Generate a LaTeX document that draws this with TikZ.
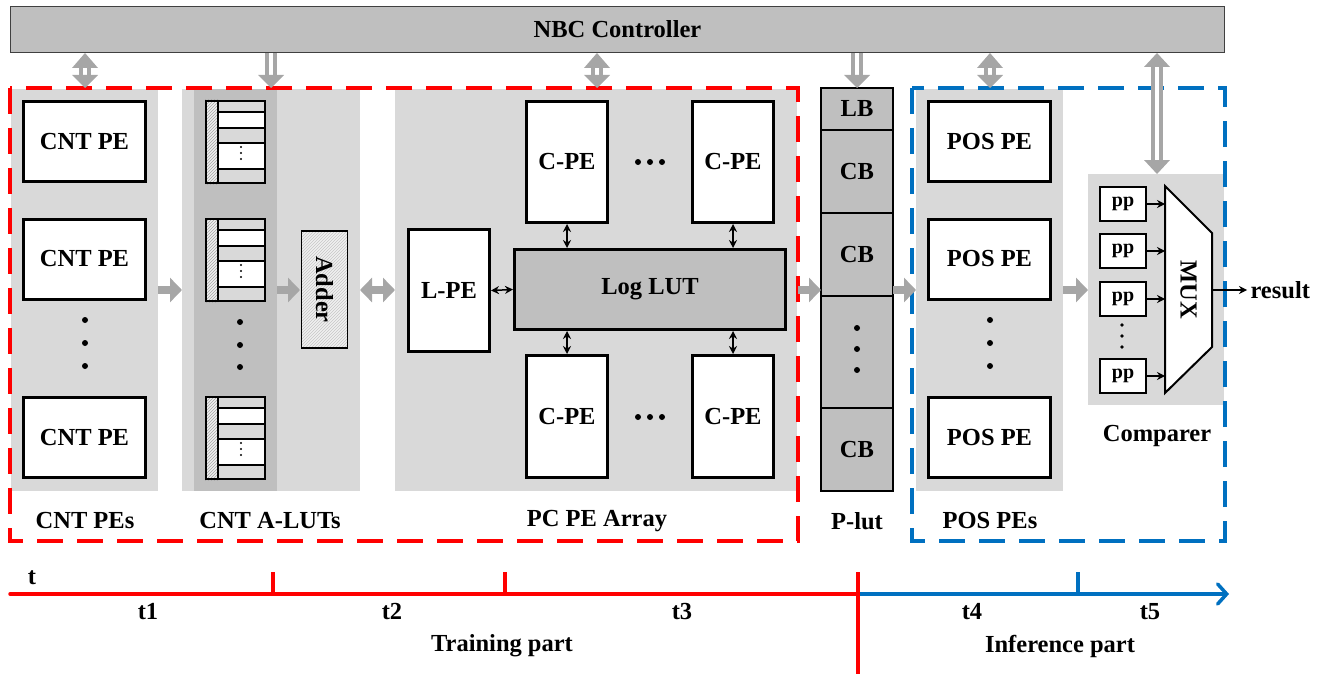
\documentclass[tikz,border=0pt]{standalone}
\usepackage{fontspec}
\setmainfont{Liberation Serif}
\usetikzlibrary{arrows.meta,patterns,calc}
\definecolor{panel}{HTML}{D9D9D9}
\definecolor{dpanel}{HTML}{BFBFBF}
\definecolor{arrgray}{HTML}{A6A6A6}
\definecolor{myred}{HTML}{FF0000}
\definecolor{myblue}{HTML}{0070C0}
\tikzset{
  pebox/.style={draw, line width=3pt, fill=white, inner sep=0pt},
  plbox/.style={draw, line width=1.2pt, fill=dpanel, inner sep=0pt, minimum width=72pt},
  ppbox/.style={draw, line width=2pt, fill=white, inner sep=0pt, minimum width=46pt, minimum height=34pt, font=\bfseries\fontsize{20}{21}\selectfont},
  bigarr/.style={draw=arrgray, line width=8pt, -{Triangle[length=12pt,width=24pt]}},
  bigdarr/.style={draw=arrgray, line width=8pt, {Triangle[length=12pt,width=24pt]}-{Triangle[length=12pt,width=24pt]}},
  smarr/.style={line width=1.5pt, {Stealth[length=8pt,width=8pt]}-{Stealth[length=8pt,width=8pt]}},
  sarr/.style={line width=1.5pt, -{Stealth[length=8pt,width=8pt]}},
  ctrlshaft/.style={draw=arrgray, line width=4pt, double=white, double distance=3.5pt},
  reddash/.style={draw=myred, line width=3.5pt, dash pattern=on 26pt off 14pt},
  bluedash/.style={draw=myblue, line width=3.5pt, dash pattern=on 26pt off 14pt},
  lbl/.style={inner sep=0pt},
  dot/.style={fill=black}
}
\newcommand\lutblk[2]{%
\begin{scope}[shift={(0,#2)}]
 \fill[panel] (218,0) rectangle (266,84);
 \fill[white] (218,12) rectangle (266,28);
 \fill[white] (218,43) rectangle (266,69);
 \fill[gray!12] (205,0) rectangle (218,84);
 \fill[pattern=north east lines, pattern color=gray!70] (205,0) rectangle (218,84);
 \draw[line width=2pt] (218,12) -- (266,12) (218,28) -- (266,28) (218,43) -- (266,43) (218,69) -- (266,69) (218,0) -- (218,84);
 \node[draw, line width=2.5pt, minimum width=59pt, minimum height=82pt, inner sep=0pt] (#1) at (235.5,42) {};
 \fill (241,47) circle (1.2pt) (241,53) circle (1.2pt) (241,59) circle (1.2pt);
\end{scope}}
\newcommand\uphead[3]{\fill[arrgray] (#1-13,#3) -- (#1+13,#3) -- (#1,#2) -- cycle;}
\begin{document}
\begin{tikzpicture}[x=1pt,y=-1pt, font=\bfseries\fontsize{24.5}{26}\selectfont]
\useasboundingbox (0,0) rectangle (1324,674);

% controller
\node[draw=black!75, line width=1pt, fill=dpanel, minimum width=1214pt, minimum height=46pt, inner sep=0pt] (nbc) at (617.5,29.5) {NBC Controller};

% panels
\fill[panel] (11,89) rectangle (158,491);
\fill[panel] (182,89) rectangle (360,491);
\fill[dpanel] (194,89) rectangle (277,491);
\fill[panel] (395,89) rectangle (797,491);
\fill[panel] (916,89) rectangle (1063,491);
\fill[panel] (1088,174) rectangle (1224,405);

% dashed regions
\draw[reddash] (10,88) rectangle (798,541);
\draw[bluedash] (912,88) rectangle (1225,541);

% CNT PEs
\node[pebox, minimum width=122pt, minimum height=80pt] (cnt1) at (84.5,141.5) {CNT PE};
\node[pebox, minimum width=122pt, minimum height=80pt] (cnt2) at (84.5,259) {CNT PE};
\node[pebox, minimum width=122pt, minimum height=80pt] (cnt3) at (84.5,437.5) {CNT PE};
\fill (85,320) circle (3pt) (85,343) circle (3pt) (85,366) circle (3pt);

% CNT A-LUTs
\lutblk{lut1}{100}
\lutblk{lut2}{218}
\lutblk{lut3}{396}
\fill (240,322) circle (3pt) (240,345) circle (3pt) (240,367) circle (3pt);
\node[draw, line width=1.2pt, minimum width=117pt, minimum height=46pt, inner sep=0pt, rotate=-90,
      preaction={fill=gray!12}, pattern=north east lines, pattern color=gray!45] (adder) at (324.5,289.5) {};
\node[rotate=-90] (addertxt) at (adder.center) {Adder};

% PC PE Array
\node[pebox, minimum width=81pt, minimum height=122pt] (lpe) at (449,290.5) {L-PE};
\node[pebox, fill=dpanel, minimum width=271pt, minimum height=80pt] (loglut) at (650,289.5) {Log LUT};
\node[pebox, minimum width=81pt, minimum height=121pt] (c1) at (567,162) {C-PE};
\node[pebox, minimum width=81pt, minimum height=121pt] (c2) at (733,162) {C-PE};
\node[pebox, minimum width=81pt, minimum height=122pt] (c3) at (567,416.5) {C-PE};
\node[pebox, minimum width=81pt, minimum height=122pt] (c4) at (733,416.5) {C-PE};
\fill (638,162) circle (3pt) (650,162) circle (3pt) (662,162) circle (3pt);
\fill (638,417) circle (3pt) (650,417) circle (3pt) (662,417) circle (3pt);
\draw[smarr] (lpe.east) -- (loglut.west);
\draw[smarr] (c1.south) -- (c1.south |- loglut.north);
\draw[smarr] (c2.south) -- (c2.south |- loglut.north);
\draw[smarr] (c3.north) -- (c3.north |- loglut.south);
\draw[smarr] (c4.north) -- (c4.north |- loglut.south);

% P-lut
\node[plbox, minimum height=42pt] (lb) at (857,109) {LB};
\node[plbox, minimum height=83pt] (cb1) at (857,171.5) {CB};
\node[plbox, minimum height=83pt] (cb2) at (857,254.5) {CB};
\node[plbox, minimum height=112pt] (pdots) at (857,352) {};
\node[plbox, minimum height=83pt] (cb3) at (857,449.5) {CB};
\fill (857,328) circle (3pt) (857,349) circle (3pt) (857,370) circle (3pt);

% POS PEs
\node[pebox, minimum width=122pt, minimum height=80pt] (pos1) at (989.5,141.5) {POS PE};
\node[pebox, minimum width=122pt, minimum height=80pt] (pos2) at (989.5,259) {POS PE};
\node[pebox, minimum width=122pt, minimum height=80pt] (pos3) at (989.5,437.5) {POS PE};
\fill (990,320) circle (3pt) (990,343) circle (3pt) (990,366) circle (3pt);

% Comparer
\node[ppbox] (pp1) at (1123,204) {pp};
\node[ppbox] (pp2) at (1123,251) {pp};
\node[ppbox] (pp3) at (1123,299) {pp};
\node[ppbox] (pp4) at (1123,376) {pp};
\fill (1122,325) circle (1.8pt) (1122,336) circle (1.8pt) (1122,347) circle (1.8pt);
\draw[line width=2pt, fill=white] (1165,186) -- (1212,233) -- (1212,347) -- (1165,393) -- cycle;
\node[rotate=-90] (mux) at (1188.5,290) {MUX};
\coordinate (mi1) at (1165,204);
\coordinate (mi2) at (1165,251);
\coordinate (mi3) at (1165,299);
\coordinate (mi4) at (1165,376);
\coordinate (mout) at (1212,290);
\draw[sarr] (pp1.east) -- (mi1);
\draw[sarr] (pp2.east) -- (mi2);
\draw[sarr] (pp3.east) -- (mi3);
\draw[sarr] (pp4.east) -- (mi4);
\node[anchor=west] (result) at (1247,290) {result};
\draw[sarr] (mout) -- (result.west);
\node (cmplbl) at (1157,436) {Comparer};

% labels
\node (l1) at (85,521) {CNT PEs};
\node (l2) at (270,521) {CNT A-LUTs};
\node (l3) at (597,521) {PC PE Array};
\node (l4) at (857,521) {P-lut};
\node (l5) at (990,521) {POS PEs};

% big gray arrows
\coordinate (g1a) at (158,290); \coordinate (g1b) at (182,290);
\coordinate (g2a) at (277,290); \coordinate (g2b) at (300,290);
\coordinate (g3a) at (360,290); \coordinate (g3b) at (395,290);
\coordinate (g4a) at (798,290); \coordinate (g4b) at (821,290);
\coordinate (g5a) at (893,290); \coordinate (g5b) at (916,290);
\coordinate (g6a) at (1063,290); \coordinate (g6b) at (1088,290);
\draw[bigarr] (g1a) -- (g1b);
\draw[bigarr] (g2a) -- (g2b);
\draw[bigdarr] (g3a) -- (g3b);
\draw[bigarr] (g4a) -- (g4b);
\draw[bigarr] (g5a) -- (g5b);
\draw[bigarr] (g6a) -- (g6b);

% controller arrows
\coordinate (k1a) at (85,67); \coordinate (k1b) at (85,76);
\draw[ctrlshaft] (k1a) -- (k1b); \uphead{85}{53}{68} \uphead{85}{88}{75}
\coordinate (k2a) at (271,53); \coordinate (k2b) at (271,76);
\draw[ctrlshaft] (k2a) -- (k2b); \uphead{271}{88}{75}
\coordinate (k3a) at (597,67); \coordinate (k3b) at (597,76);
\draw[ctrlshaft] (k3a) -- (k3b); \uphead{597}{53}{68} \uphead{597}{88}{75}
\coordinate (k4a) at (857,53); \coordinate (k4b) at (857,76);
\draw[ctrlshaft] (k4a) -- (k4b); \uphead{857}{88}{75}
\coordinate (k5a) at (990,67); \coordinate (k5b) at (990,76);
\draw[ctrlshaft] (k5a) -- (k5b); \uphead{990}{53}{68} \uphead{990}{88}{75}
\coordinate (k6a) at (1157,66); \coordinate (k6b) at (1157,161);
\draw[ctrlshaft] (k6a) -- (k6b); \uphead{1157}{53}{67} \uphead{1157}{174}{160}

% timeline
\coordinate (t0) at (10,594);
\coordinate (tm) at (858,594);
\coordinate (te) at (1229,594);
\draw[myred, line width=3.5pt, line cap=round] (t0) -- (tm);
\draw[myblue, line width=3.5pt, -{Straight Barb[length=9pt,width=20pt,line cap=round]}] (tm) -- (te);
\coordinate (tk1) at (273,572); \coordinate (tk2) at (505,572); \coordinate (tk4) at (1078,572);
\coordinate (tk3) at (858,572); \coordinate (tk3b) at (858,674);
\draw[myred, line width=3.5pt] (tk1) -- (tk1 |- t0);
\draw[myred, line width=3.5pt] (tk2) -- (tk2 |- t0);
\draw[myblue, line width=3.5pt] (tk4) -- (tk4 |- t0);
\draw[myred, line width=3.5pt] (tk3) -- (tk3b);
\node (tt) at (32,578) {t};
\node (tt1) at (148,612) {t1};
\node (tt2) at (392,612) {t2};
\node (tt3) at (682,612) {t3};
\node (tt4) at (972,612) {t4};
\node (tt5) at (1150,612) {t5};
\node (train) at (502,646) {Training part};
\node (infer) at (1060,646) {Inference part};
\end{tikzpicture}
\end{document}
